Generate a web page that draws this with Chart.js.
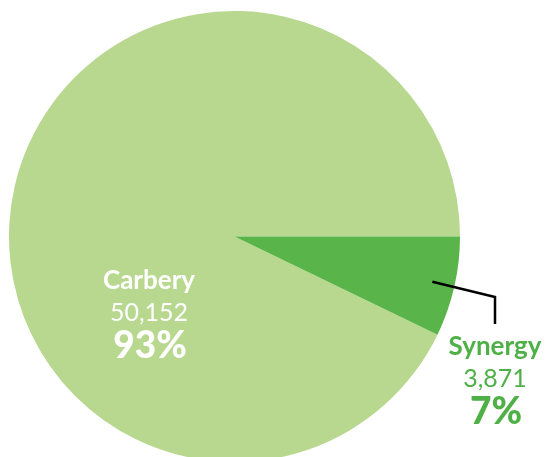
<!DOCTYPE html>
<html>
<head>
<meta charset="utf-8">
<script src="https://cdn.jsdelivr.net/npm/chart.js@4"></script>
<style>
  html, body { margin: 0; padding: 0; background: #fff; overflow: hidden; }
  #wrap { position: absolute; left: 0; top: 0; width: 547px; height: 472px; }
</style>
</head>
<body>
<div id="wrap"><canvas id="pieChart" width="547" height="472"></canvas></div>
<script>
const categories = ["Carbery", "Synergy"]
const counts = [50152, 3871]
const sliceColors = ["#b8d88f", "#59b44a"]
const labelColors = ["#ffffff", "#4fb047"]

const total = counts.reduce((a, b) => a + b, 0)

// name / count / percent text blocks, one per slice
const sliceLabels = {
  id: "sliceLabels",
  afterDatasetsDraw(chart) {
    const ctx = chart.ctx
    const meta = chart.getDatasetMeta(0)
    const blocks = [
      { x: 149, y: 289 },
      { x: 495, y: 355 }
    ]

    // leader line for the small slice
    const arc = meta.data[1]
    const mid = (arc.startAngle + arc.endAngle) / 2
    const r = arc.outerRadius * 0.9
    const sx = arc.x + Math.cos(mid) * r
    const sy = arc.y + Math.sin(mid) * r
    ctx.save()
    ctx.strokeStyle = "#000"
    ctx.lineWidth = 2.5
    ctx.beginPath()
    ctx.moveTo(sx, sy)
    ctx.lineTo(495, 297)
    ctx.lineTo(495, 324)
    ctx.stroke()

    ctx.textAlign = "center"
    ctx.textBaseline = "alphabetic"
    categories.forEach((name, i) => {
      const b = blocks[i]
      ctx.fillStyle = labelColors[i]
      ctx.font = "bold 26px Lato"
      ctx.fillText(name, b.x, b.y)
      ctx.font = "25px Lato"
      ctx.fillText(counts[i].toLocaleString("en-US"), b.x, b.y + 32)
      ctx.font = "900 37px Lato"
      ctx.fillText(Math.round(counts[i] / total * 100) + "%", b.x + 1, b.y + 69)
    })
    ctx.restore()
  }
}

new Chart(document.getElementById("pieChart").getContext("2d"), {
  type: "pie",
  data: {
    labels: categories,
    datasets: [
      {
        data: counts,
        backgroundColor: sliceColors,
        borderWidth: 0
      }
    ]
  },
  options: {
    responsive: false,
    animation: false,
    rotation: 90 + 360 * counts[1] / total,
    layout: {
      padding: { left: 9, top: 11, right: 87, bottom: 10 }
    },
    plugins: {
      legend: { display: false },
      tooltip: { enabled: false }
    }
  },
  plugins: [sliceLabels]
})
</script>
</body>
</html>
